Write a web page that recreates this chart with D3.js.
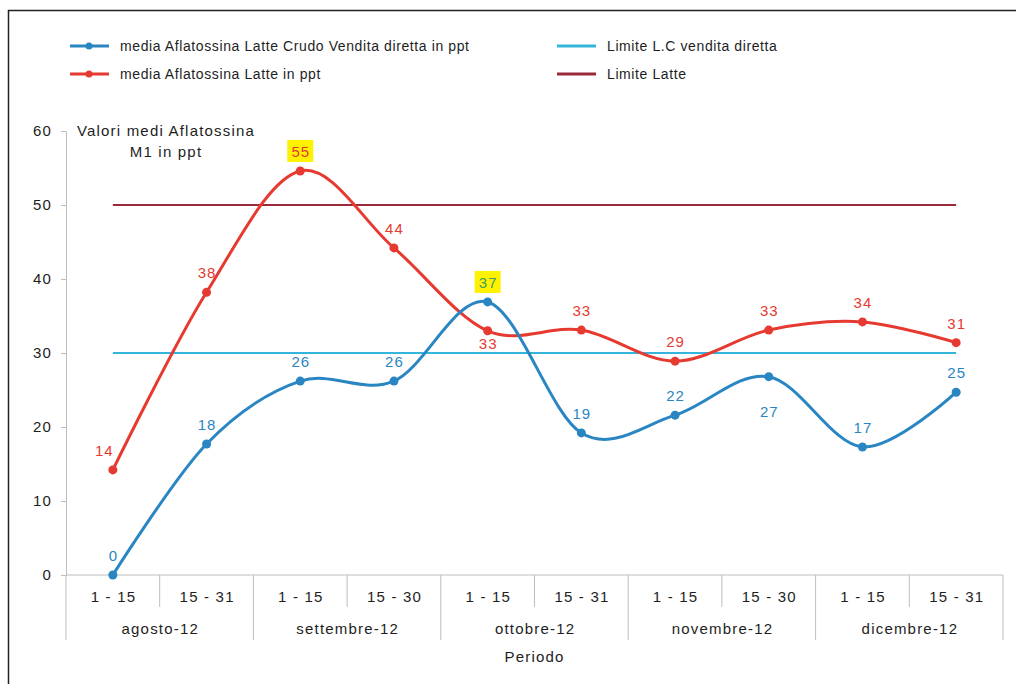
<!DOCTYPE html>
<html><head><meta charset="utf-8">
<script src="https://cdn.jsdelivr.net/npm/d3@7"></script>
<style>body{margin:0;background:#fff}svg{display:block;font-family:"Liberation Sans",Arial,sans-serif}</style>
</head><body><svg id="c" width="1016" height="684"></svg>
<script>
const subPeriods = ["1 - 15","15 - 31","1 - 15","15 - 30","1 - 15","15 - 31","1 - 15","15 - 30","1 - 15","15 - 31"];
const months = ["agosto-12","settembre-12","ottobre-12","novembre-12","dicembre-12"];
const bluePPT = [0,17.7,26.2,26.2,36.9,19.2,21.6,26.8,17.3,24.7];
const redPPT = [14.2,38.2,54.6,44.2,33.0,33.1,28.9,33.1,34.2,31.4];
const limitLC = 30;
const limitLatte = 50;
const yTicks = [0,10,20,30,40,50,60];
const blueLabelPos = ["a","a","a","a","a","a","a","b","a","a"];
const redLabelPos = ["a","a","a","a","b","a","a","a","a","a"];
const highlightBlue = [4];
const highlightRed = [2];
const seriesNames = ["media Aflatossina Latte Crudo Vendita diretta in ppt","media Aflatossina Latte in ppt","Limite L.C vendita diretta","Limite Latte"];

const BLUE="#2a86c2", RED="#e63a31", LBLUE="#35b5dc", DRED="#9a2a3a", AX="#bdbdbd", TXT="#1e1e1e";
const LS=1.2;
const svg=d3.select("#c");
// frame
svg.append("rect").attr("x",8.5).attr("y",10.5).attr("width",1100).attr("height",800).attr("fill","none").attr("stroke","#222").attr("stroke-width",1.5);

const L=66,R=1003,T=131,B=575;
const idx=d3.range(subPeriods.length);
const x=d3.scaleBand().domain(idx).range([L,R]);
const xc=i=>x(i)+x.bandwidth()/2;
const y=d3.scaleLinear().domain([0,60]).range([B,T]);

// y axis
const ya=svg.append("g").attr("transform",`translate(${L},0)`).call(d3.axisLeft(y).tickValues(yTicks).tickSize(5).tickPadding(9));
ya.select(".domain").attr("stroke",AX);
ya.selectAll(".tick line").attr("stroke",AX);
ya.selectAll("text").attr("font-size",15).attr("fill",TXT).attr("font-family","Liberation Sans, Arial").attr("letter-spacing",LS);

// x axis baseline and dividers
svg.append("line").attr("x1",L).attr("x2",R).attr("y1",B).attr("y2",B).attr("stroke",AX);
idx.forEach(i=>{
  if(i===0) return;
  const xx=x(i);
  const long = i%2===0;
  svg.append("line").attr("x1",xx).attr("x2",xx).attr("y1",B).attr("y2",long?640:607).attr("stroke",AX);
});
[L,R].forEach(xx=>svg.append("line").attr("x1",xx).attr("x2",xx).attr("y1",B).attr("y2",640).attr("stroke",AX));
const txt=(xx,yy,s,fs,col,anchor)=>svg.append("text").attr("x",xx).attr("y",yy).attr("text-anchor",anchor||"middle").attr("font-size",fs).attr("fill",col||TXT).attr("letter-spacing",LS).text(s);
subPeriods.forEach((d,i)=>txt(xc(i)+LS/2,602,d,15));
months.forEach((d,i)=>txt((x(2*i)+x(2*i+1)+x.bandwidth())/2+LS/2,634,d,15));
txt((L+R)/2,662,"Periodo",15);

// y title
txt(166,136,"Valori medi Aflatossina",15);
txt(166,157,"M1 in ppt",15);

// limit lines
svg.append("line").attr("x1",xc(0)).attr("x2",xc(idx.length-1)).attr("y1",y(limitLatte)).attr("y2",y(limitLatte)).attr("stroke",DRED).attr("stroke-width",2);
svg.append("line").attr("x1",xc(0)).attr("x2",xc(idx.length-1)).attr("y1",y(limitLC)).attr("y2",y(limitLC)).attr("stroke",LBLUE).attr("stroke-width",2);

const line=d3.line().x((d,i)=>xc(i)).y(d=>y(d)).curve(d3.curveCardinal.tension(0));
function series(vals,color,pos,hl,hlText){
  svg.append("path").attr("d",line(vals)).attr("fill","none").attr("stroke",color).attr("stroke-width",3);
  svg.selectAll(null).data(vals).join("circle").attr("cx",(d,i)=>xc(i)).attr("cy",d=>y(d)).attr("r",4.5).attr("fill",color);
  vals.forEach((v,i)=>{
    const ly = pos[i]==="a" ? y(v)-14 : (color===RED? y(v)+18 : y(v)+40);
    const lx = (i===0 && color===RED)? xc(i)-9 : xc(i);
    if(hl.includes(i)){
      svg.append("rect").attr("x",lx-13).attr("y",ly-17).attr("width",26).attr("height",22).attr("fill","#fff200");
    }
    txt(lx+0.5,ly,Math.round(v),15,hl.includes(i)?hlText:color).attr("letter-spacing",1);
  });
}
series(redPPT,RED,redLabelPos,highlightRed,RED);
series(bluePPT,BLUE,blueLabelPos,highlightBlue,"#3f9c6a");

// legend
const leg=[{c:BLUE,m:true,x:70,y:46},{c:RED,m:true,x:70,y:74},{c:LBLUE,m:false,x:557,y:46},{c:DRED,m:false,x:557,y:74}];
leg.forEach((l,i)=>{
  svg.append("line").attr("x1",l.x).attr("x2",l.x+39).attr("y1",l.y).attr("y2",l.y).attr("stroke",l.c).attr("stroke-width",3);
  if(l.m) svg.append("circle").attr("cx",l.x+19).attr("cy",l.y).attr("r",3.5).attr("fill",l.c);
  txt(l.x+50,l.y+5,seriesNames[i],14,TXT,"start").attr("letter-spacing",0.6);
});
</script></body></html>
